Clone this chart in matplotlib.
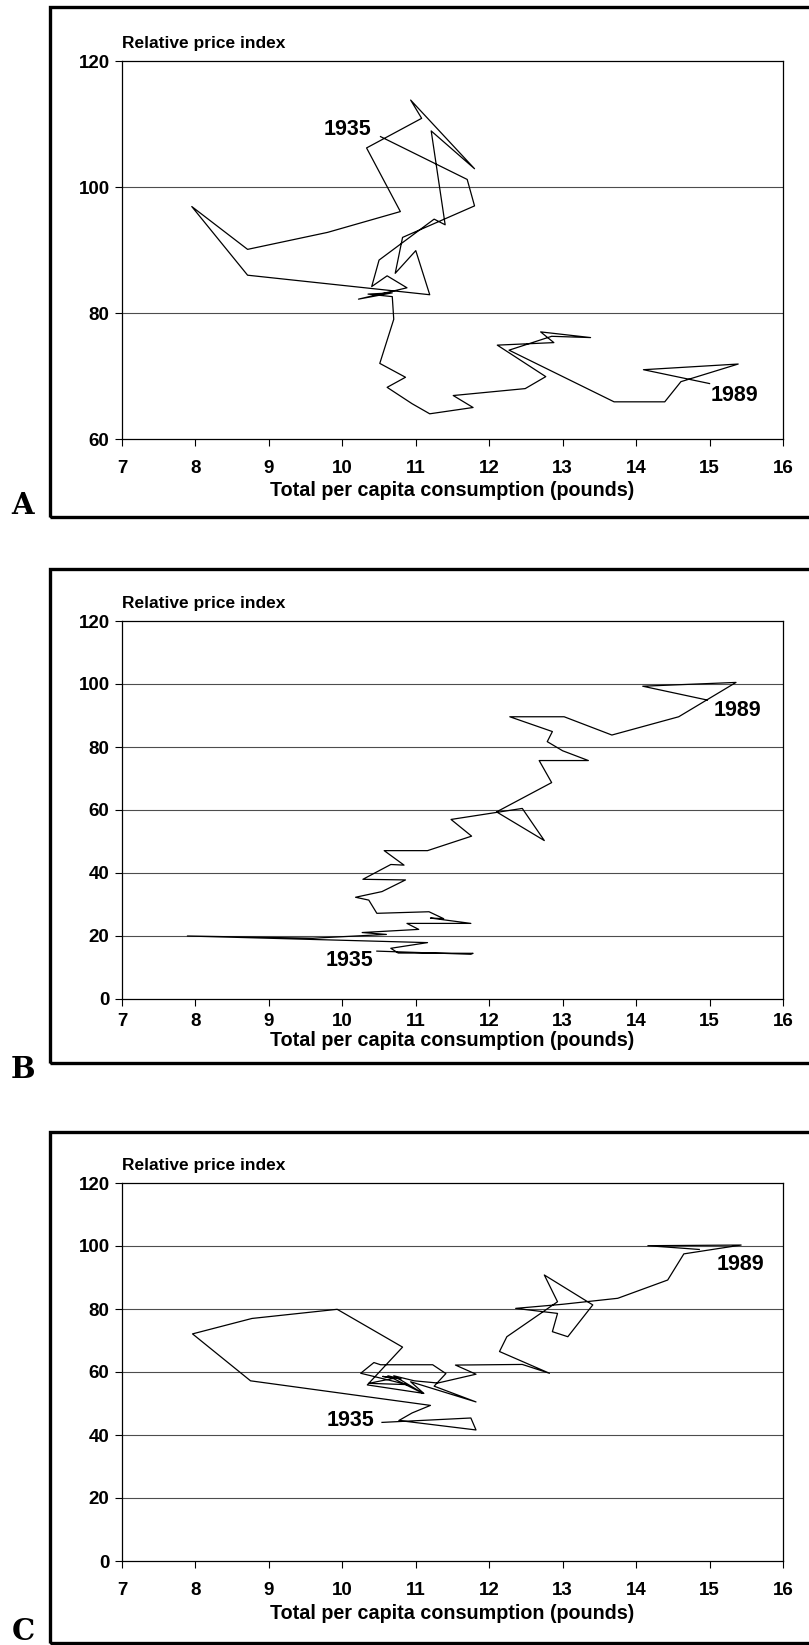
import matplotlib
matplotlib.use("Agg")
import matplotlib.pyplot as plt
from matplotlib.patches import Rectangle

# panel A: consumption vs relative price
a_cons = [10.52, 11.70, 11.80, 10.82, 10.72, 11.00, 11.19, 8.71, 7.95, 8.71, 9.80, 10.79,
          10.33, 11.08, 10.93, 11.80, 11.21, 11.40, 11.25, 10.50, 10.40, 10.61, 10.88, 10.22,
          10.68, 10.35, 10.68, 10.70, 10.51, 10.86, 10.61, 10.95, 11.19, 11.78, 11.51, 12.49,
          12.77, 12.11, 12.88, 12.70, 13.38, 12.85, 12.27, 13.70, 14.39, 14.61, 15.39, 14.10, 15.00]
a_price = [108.0, 101.2, 97.0, 92.0, 86.3, 89.9, 82.9, 86.0, 96.9, 90.1, 92.8, 96.1,
           106.2, 110.9, 113.8, 102.9, 108.9, 94.0, 94.9, 88.4, 84.2, 85.9, 84.0, 82.2,
           83.2, 83.0, 82.6, 79.0, 72.0, 69.8, 68.2, 65.6, 64.0, 65.0, 66.9, 68.0,
           69.9, 74.9, 75.3, 77.0, 76.1, 76.3, 74.1, 65.9, 65.9, 69.1, 71.9, 71.0, 68.8]

b_cons = [10.47, 11.75, 11.78, 10.76, 10.66, 11.16, 7.89, 9.60, 10.60, 10.27, 11.04, 10.88,
          11.75, 11.20, 11.38, 11.18, 10.47, 10.36, 10.18, 10.54, 10.86, 10.28, 10.66, 10.84,
          10.57, 11.16, 11.76, 11.48, 12.45, 12.75, 12.10, 12.85, 12.68, 13.35, 13.00, 12.79,
          12.86, 12.28, 13.02, 13.67, 14.58, 15.36, 14.09, 14.97]
b_price = [15.2, 14.2, 14.5, 14.6, 16.1, 17.9, 20.0, 19.3, 20.5, 21.1, 22.1, 24.0,
           24.0, 25.7, 25.5, 27.7, 27.2, 31.4, 32.3, 34.1, 37.8, 38.0, 42.7, 42.5,
           47.1, 47.1, 51.7, 57.0, 60.5, 50.3, 59.4, 68.7, 75.7, 75.7, 78.8, 81.7,
           84.9, 89.6, 89.6, 83.8, 89.6, 100.5, 99.3, 94.9]

c_cons = [10.54, 11.75, 11.82, 10.77, 10.95, 11.20, 8.75, 7.96, 8.77, 9.93, 10.82, 10.34,
          11.11, 10.93, 11.82, 11.25, 11.41, 11.23, 10.52, 10.43, 10.25, 10.62, 10.88, 10.36,
          10.70, 10.55, 10.80, 10.62, 11.10, 10.70, 10.98, 11.30, 11.82, 11.54, 12.45, 12.82,
          12.14, 12.24, 12.93, 12.75, 13.41, 13.07, 12.86, 12.93, 12.36, 13.00, 13.75, 14.43,
          14.65, 15.43, 14.16, 14.86]
c_price = [44.0, 45.4, 41.6, 44.6, 47.0, 49.4, 57.2, 72.1, 77.0, 79.9, 67.9, 55.9,
           53.2, 56.9, 50.5, 55.5, 59.5, 62.3, 62.3, 63.0, 59.6, 57.5, 56.0, 56.4,
           58.0, 58.6, 57.8, 58.8, 53.2, 58.8, 57.2, 56.5, 59.3, 62.2, 62.4, 59.6,
           66.5, 71.2, 82.3, 90.8, 81.3, 71.2, 72.8, 78.6, 80.2, 81.5, 83.4, 89.2,
           97.5, 100.3, 100.1, 98.9]

x_ticks = [7, 8, 9, 10, 11, 12, 13, 14, 15, 16]
a_yticks = [60, 80, 100, 120]
bc_yticks = [0, 20, 40, 60, 80, 100, 120]

W, H = 809, 1645
plt.rcParams['font.family'] = ['Liberation Sans', 'DejaVu Sans']
fig = plt.figure(figsize=(W / 100, H / 100), dpi=100)

panels = [
    # letter, x, y, yticks, axes top/bottom px, frame top/bottom px, letter y,
    # x tick pad, xlabel pad, year labels
    ("A", a_cons, a_price, a_yticks, 61, 439, 7, 517, 505, 10, 3,
     ((10.40, 109.1), (15.01, 66.9))),
    ("B", b_cons, b_price, bc_yticks, 621, 999, 569, 1063, 1069, 5, 1,
     ((10.42, 12.1), (15.06, 91.5))),
    ("C", c_cons, c_price, bc_yticks, 1183, 1561, 1132, 1643, 1631, 10, 4,
     ((10.43, 44.5), (15.09, 94.0))),
]

for letter, xs, ys, yt, top, bot, ftop, fbot, ly, xpad, lpad, labs in panels:
    ax = fig.add_axes([122 / W, 1 - bot / H, (783 - 122) / W, (bot - top) / H])
    ax.plot(xs, ys, color="black", lw=0.9)
    ax.set_xlim(7, 16)
    ax.set_ylim(yt[0], yt[-1])
    ax.set_xticks(x_ticks)
    ax.set_yticks(yt)
    for v in yt[1:-1]:
        ax.axhline(v, color="0.3", lw=0.8, zorder=0)
    for s in ax.spines.values():
        s.set_linewidth(0.9)
    ax.tick_params(axis="both", direction="out", length=5, width=0.8,
                   labelsize=13.5)
    ax.tick_params(axis="x", pad=xpad)
    ax.tick_params(axis="y", pad=4)
    for t in ax.get_xticklabels() + ax.get_yticklabels():
        t.set_fontweight("bold")
    ax.set_xlabel("Total per capita consumption (pounds)", fontsize=14.2,
                  fontweight="bold", labelpad=lpad)
    ax.text(0.0, 1.045, "Relative price index", transform=ax.transAxes,
            fontsize=12.5, fontweight="bold", ha="left", va="center")
    (x1, y1), (x2, y2) = labs
    ax.text(x1, y1, "1935", fontsize=15.5, fontweight="bold", ha="right", va="center")
    ax.text(x2, y2, "1989", fontsize=15.5, fontweight="bold", ha="left", va="center")

    # outer frame of the panel, running off the right edge
    fig.patches.append(Rectangle((50 / W, 1 - fbot / H), 1.0, (fbot - ftop) / H,
                                 transform=fig.transFigure, fill=False,
                                 lw=2.4, edgecolor="black"))
    fig.text(23 / W, 1 - ly / H, letter, family=["DejaVu Serif"],
             fontsize=21, fontweight="bold", ha="center", va="center")

fig.savefig("out.png", dpi=100)
